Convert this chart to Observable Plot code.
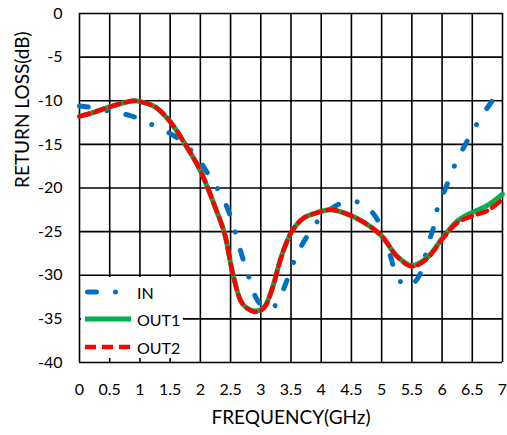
<!DOCTYPE html>
<html>
<head>
<meta charset="utf-8">
<script src="https://cdn.jsdelivr.net/npm/d3@7"></script>
<script src="https://cdn.jsdelivr.net/npm/@observablehq/plot@0.6"></script>
<style>
  html, body { margin: 0; padding: 0; background: #fff; }
  #wrap { position: relative; width: 507px; height: 435px; font-family: Lato, "Open Sans", sans-serif; }
  #legend { position: absolute; left: 81px; top: 277px; width: 102px; height: 81px; background: #fff; }
  .item { position: absolute; left: 0; height: 20px; display: flex; align-items: center; font-size: 16px; color: #000; }
  .item svg { margin-left: 4px; margin-right: 6px; }
</style>
</head>
<body>
<div id="wrap"></div>
<script>
const xTicks = [0, 0.5, 1, 1.5, 2, 2.5, 3, 3.5, 4, 4.5, 5, 5.5, 6, 6.5, 7];
const yTicks = [0, -5, -10, -15, -20, -25, -30, -35, -40];
const xLabel = "FREQUENCY(GHz)";
const yLabel = "RETURN LOSS(dB)";
const seriesNames = ["IN", "OUT1", "OUT2"];

const inFreq = [0.0, 0.07, 0.29, 0.56, 0.84, 1.06, 1.31, 1.56, 1.73, 1.95, 2.11, 2.25, 2.39, 2.5, 2.58, 2.66, 2.75, 2.83, 2.93, 3.05, 3.13, 3.22, 3.3, 3.41, 3.52, 3.63, 3.76, 3.93, 4.12, 4.35, 4.6, 4.82, 4.97, 5.05, 5.15, 5.23, 5.35, 5.45, 5.61, 5.78, 5.86, 5.92, 6.03, 6.13, 6.24, 6.37, 6.5, 6.65, 6.81, 6.95, 7.0];
const inLoss = [-10.6, -10.65, -10.9, -11.3, -11.7, -12.3, -13.1, -14.0, -14.9, -16.5, -18.2, -19.7, -21.4, -23.3, -25.1, -27.1, -29.1, -30.8, -32.7, -33.7, -33.85, -33.6, -32.8, -31.0, -28.9, -27.2, -25.6, -23.9, -22.6, -21.7, -21.6, -22.6, -24.2, -26.4, -27.9, -29.9, -31.0, -31.3, -30.2, -26.2, -24.5, -22.4, -20.5, -18.8, -16.9, -15.2, -13.6, -11.8, -10.2, -8.7, -8.3];

const outFreq = [0, 0.25, 0.5, 0.75, 0.9, 1.0, 1.25, 1.5, 1.75, 2.0, 2.25, 2.4, 2.55, 2.7, 2.9, 3.05, 3.2, 3.3, 3.4, 3.52, 3.7, 3.9, 4.15, 4.4, 4.7, 5.0, 5.25, 5.5, 5.75, 6.0, 6.25, 6.5, 6.75, 7.0];
const out1Loss = [-11.8, -11.3, -10.7, -10.2, -10.0, -10.1, -10.7, -12.4, -15.0, -18.0, -22.3, -25.2, -30.2, -33.3, -34.1, -33.7, -31.3, -28.8, -26.7, -24.9, -23.5, -22.9, -22.5, -22.9, -23.9, -25.5, -27.8, -28.9, -28.0, -25.8, -23.8, -22.8, -22.0, -20.7];
const out2Loss = [-11.8, -11.3, -10.7, -10.2, -10.0, -10.1, -10.7, -12.4, -15.0, -18.0, -22.3, -25.2, -30.2, -33.3, -34.2, -33.8, -31.3, -28.8, -26.7, -24.9, -23.5, -22.9, -22.5, -22.9, -23.9, -25.5, -27.8, -29.0, -28.1, -25.9, -24.0, -23.2, -22.6, -21.3];

const colors = { IN: "#0070C0", OUT1: "#00B050", OUT2: "#FF0000" };

const inData = inFreq.map((f, i) => ({ f, v: inLoss[i] }));
const out1Data = outFreq.map((f, i) => ({ f, v: out1Loss[i] }));
const out2Data = outFreq.map((f, i) => ({ f, v: out2Loss[i] }));

const fmt = d => String(d);

const chart = Plot.plot({
  width: 507,
  height: 435,
  marginLeft: 79,
  marginRight: 5,
  marginTop: 13,
  marginBottom: 73,
  style: { fontFamily: "Lato, 'Open Sans', sans-serif", fontSize: "16px", background: "#fff", color: "#000", overflow: "visible" },
  x: { domain: [0, 7], ticks: xTicks },
  y: { domain: [-40, 0], ticks: yTicks },
  marks: [
    Plot.gridX(xTicks, { stroke: "#000", strokeOpacity: 1, strokeWidth: 1.6 }),
    Plot.gridY(yTicks, { stroke: "#000", strokeOpacity: 1, strokeWidth: 1.6 }),
    Plot.axisX(xTicks, { tickSize: 0, tickPadding: 21, fontSize: 16, tickFormat: fmt, label: null }),
    Plot.axisY(yTicks, { tickSize: 0, tickPadding: 17, fontSize: 16, tickFormat: fmt, label: null }),
    Plot.line(inData, { x: "f", y: "v", stroke: colors.IN, strokeWidth: 5, curve: "catmull-rom", strokeDasharray: "9,19,0.01,19", strokeLinecap: "round" }),
    Plot.line(out1Data, { x: "f", y: "v", stroke: colors.OUT1, strokeWidth: 5, curve: "catmull-rom" }),
    Plot.line(out2Data, { x: "f", y: "v", stroke: colors.OUT2, strokeWidth: 4.5, curve: "catmull-rom", strokeDasharray: "10,6" }),
    Plot.text([xLabel], { frameAnchor: "bottom", dy: 61, fontSize: 19, fill: "#000" }),
    Plot.text([yLabel], { frameAnchor: "left", dx: -57, rotate: -90, fontSize: 19, fill: "#000" })
  ]
});

const wrap = document.getElementById("wrap");
wrap.appendChild(chart);

// legend overlay
const legend = document.createElement("div");
legend.id = "legend";
const rows = [
  { name: seriesNames[0], top: 5, dash: "9,19,0.01,19", cap: "round", w: 5 },
  { name: seriesNames[1], top: 32, dash: null, cap: "butt", w: 5 },
  { name: seriesNames[2], top: 60, dash: "11,6", cap: "butt", w: 4.5 }
];
rows.forEach(r => {
  const item = document.createElement("div");
  item.className = "item";
  item.style.top = r.top + "px";
  const ns = "http://www.w3.org/2000/svg";
  const s = document.createElementNS(ns, "svg");
  s.setAttribute("width", 46);
  s.setAttribute("height", 20);
  const l = document.createElementNS(ns, "line");
  l.setAttribute("x1", r.cap === "round" ? 2.5 : 0);
  l.setAttribute("x2", 46);
  l.setAttribute("y1", 10);
  l.setAttribute("y2", 10);
  l.setAttribute("stroke", colors[r.name]);
  l.setAttribute("stroke-width", r.w);
  l.setAttribute("stroke-linecap", r.cap);
  if (r.dash) l.setAttribute("stroke-dasharray", r.dash);
  s.appendChild(l);
  item.appendChild(s);
  const t = document.createElement("span");
  t.textContent = r.name;
  item.appendChild(t);
  legend.appendChild(item);
});
wrap.appendChild(legend);
</script>
</body>
</html>
